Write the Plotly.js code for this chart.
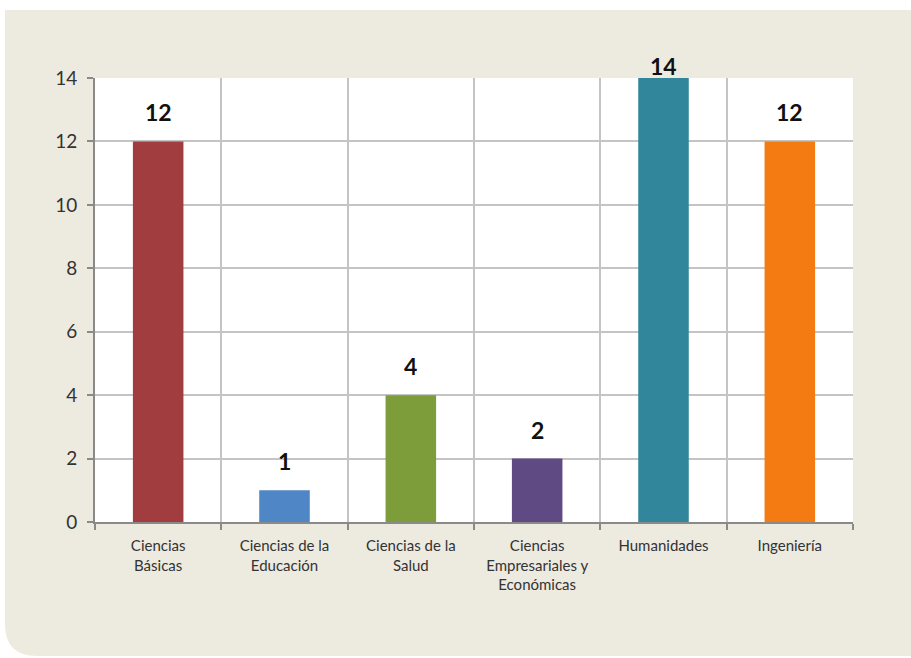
<!DOCTYPE html>
<html>
<head>
<meta charset="utf-8">
<script src="https://cdn.plot.ly/plotly-3.0.1.min.js"></script>
<style>html,body{margin:0;padding:0;background:#fff;}#chart{width:911px;height:658px;}</style>
</head>
<body>
<div id="chart"></div>
<script>
var categories = ["Ciencias<br>Básicas", "Ciencias de la<br>Educación", "Ciencias de la<br>Salud", "Ciencias<br>Empresariales y<br>Económicas", "Humanidades", "Ingeniería"];
var values = [12, 1, 4, 2, 14, 12];
var barColors = ["#A23D3F", "#4F86C6", "#7D9D3B", "#604A83", "#32869C", "#F47B12"];
var yTicks = [0, 2, 4, 6, 8, 10, 12, 14];

var W = 911, H = 658;
var M = {l: 95, r: 58, t: 78, b: 136};
var pw = W - M.l - M.r, ph = H - M.t - M.b;
function px(x) { return (x - M.l) / pw; }
function py(y) { return (H - M.b - y) / ph; }

var ymax = 14;
var trace = {
  type: "bar",
  x: categories,
  y: values,
  width: 0.4,
  marker: {color: barColors, line: {width: 0}},
  hoverinfo: "none"
};

var annotations = values.map(function (v, i) {
  return {
    x: categories[i], y: v, xref: "x", yref: "y",
    text: String(v), showarrow: false,
    yanchor: "bottom",
    yshift: v >= ymax ? -4 : 13,
    font: {family: "Lato, 'Open Sans', sans-serif", size: 23, color: "#111", weight: "bold"}
  };
});

var r = 32;
var bgPath = "M" + px(5) + "," + py(10) +
  " L" + px(911) + "," + py(10) +
  " L" + px(911) + "," + py(656) +
  " L" + px(5 + r) + "," + py(656) +
  " Q" + px(5) + "," + py(656) + " " + px(5) + "," + py(656 - r) +
  " Z";

var layout = {
  width: W, height: H,
  margin: M,
  paper_bgcolor: "#ffffff",
  plot_bgcolor: "rgba(0,0,0,0)",
  showlegend: false,
  font: {family: "Lato, 'Open Sans', sans-serif", color: "#333"},
  xaxis: {
    type: "category",
    tickson: "boundaries",
    ticks: "outside", ticklen: 6, tickwidth: 2, tickcolor: "#8A8A8A",
    showgrid: true, gridcolor: "#C4C4C4", gridwidth: 2,
    showline: true, linecolor: "#8A8A8A", linewidth: 2,
    tickfont: {size: 15, color: "#333"},
    ticklabelstandoff: 9,
    fixedrange: true
  },
  yaxis: {
    range: [0, ymax],
    tickvals: yTicks,
    ticks: "outside", ticklen: 6, tickwidth: 2, tickcolor: "#8A8A8A",
    showgrid: true, gridcolor: "#C4C4C4", gridwidth: 2,
    showline: true, linecolor: "#8A8A8A", linewidth: 2,
    zeroline: false,
    tickfont: {size: 19, color: "#333"},
    ticklabelstandoff: 6,
    fixedrange: true
  },
  annotations: annotations,
  shapes: [
    {type: "path", xref: "paper", yref: "paper", path: bgPath,
     fillcolor: "#EDEAE0", line: {width: 0}, layer: "below"},
    {type: "rect", xref: "x domain", yref: "y domain", x0: 0, x1: 1, y0: 0, y1: 1,
     fillcolor: "#ffffff", line: {width: 0}, layer: "below"}
  ]
};

Plotly.newPlot("chart", [trace], layout, {displayModeBar: false, staticPlot: true});
</script>
</body>
</html>
